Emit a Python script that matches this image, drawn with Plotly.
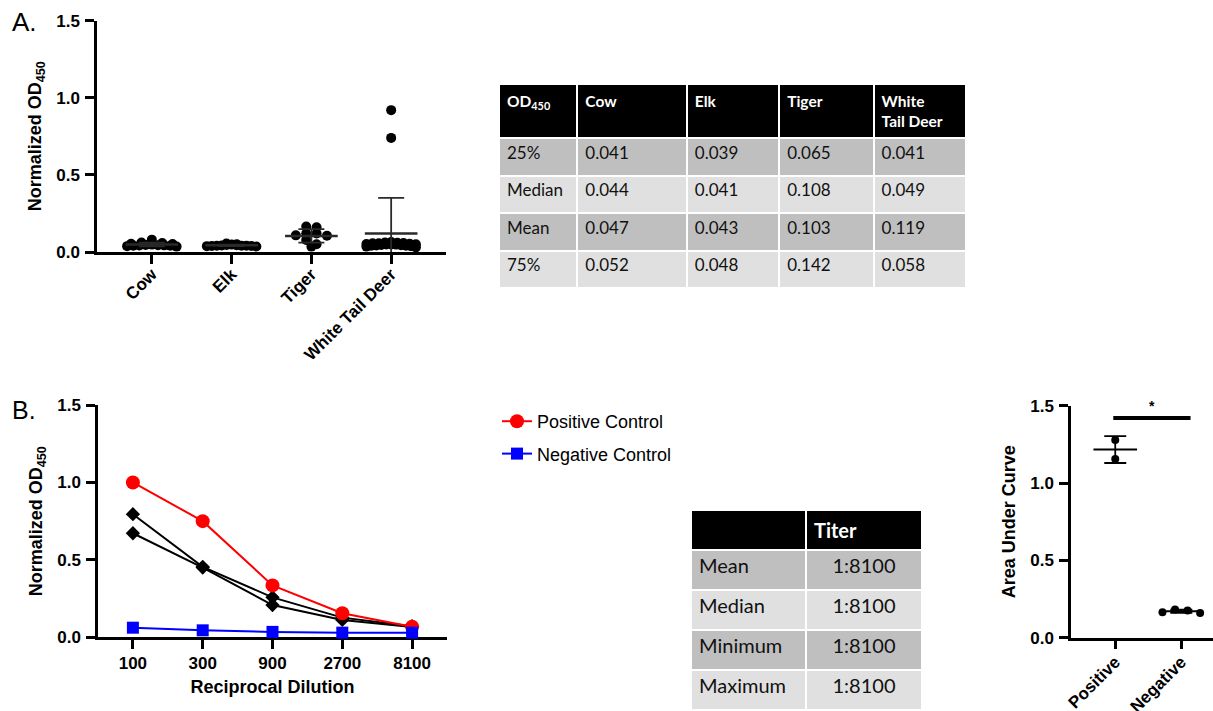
import numpy as np
import plotly.graph_objects as go

# ---------------- Panel A data ----------------
SPECIES = ["Cow", "Elk", "Tiger", "White Tail Deer"]
COW = [0.035, 0.038, 0.040, 0.041, 0.042, 0.043, 0.044, 0.045, 0.048,
       0.052, 0.053, 0.058, 0.062, 0.080]
ELK = [0.036, 0.038, 0.039, 0.039, 0.040, 0.041, 0.041, 0.042, 0.044,
       0.046, 0.048, 0.050, 0.055]
TIGER = [0.120, 0.050, 0.105, 0.160, 0.108, 0.165, 0.078, 0.120, 0.035]
WTD = [0.030, 0.035, 0.038, 0.040, 0.041, 0.042, 0.044, 0.046, 0.048, 0.049,
       0.049, 0.050, 0.052, 0.054, 0.056, 0.057, 0.058, 0.060, 0.062, 0.065,
       0.740, 0.920]

TABLE_A_HEADER = ["OD<sub>450</sub>", "Cow", "Elk", "Tiger", "White<br>Tail Deer"]
TABLE_A_STATS = ["25%", "Median", "Mean", "75%"]
TABLE_A_COW = ["0.041", "0.044", "0.047", "0.052"]
TABLE_A_ELK = ["0.039", "0.041", "0.043", "0.048"]
TABLE_A_TIGER = ["0.065", "0.108", "0.103", "0.142"]
TABLE_A_WTD = ["0.041", "0.049", "0.119", "0.058"]

# ---------------- Panel B data ----------------
DILUTIONS = [100, 300, 900, 2700, 8100]
POS_CTRL = [1.000, 0.750, 0.335, 0.155, 0.068]
NEG_CTRL = [0.062, 0.045, 0.035, 0.030, 0.030]
SAMPLE_1 = [0.795, 0.455, 0.258, 0.127, 0.072]
SAMPLE_2 = [0.672, 0.450, 0.208, 0.112, 0.066]

TITER_HEADER = ["", "Titer"]
TITER_STATS = ["Mean", "Median", "Minimum", "Maximum"]
TITER_VALUES = ["1:8100", "1:8100", "1:8100", "1:8100"]

AUC_GROUPS = ["Positive", "Negative"]
AUC_POS = [1.278, 1.155]
AUC_NEG = [0.165, 0.182, 0.160, 0.176]
SIG_TEXT = "*"
SIG_Y = 1.42


def swarm_offsets(values, bin_size, spacing, max_half):
    v = np.asarray(values, float)
    offs = np.zeros(len(v))
    bins = np.floor(v / bin_size).astype(int)
    for b in np.unique(bins):
        idx = np.where(bins == b)[0]
        idx = idx[np.argsort(-v[idx], kind="stable")]
        k = len(idx)
        half = min(max_half, spacing * (k - 1) / 2)
        slots = np.linspace(-half, half, k) if k > 1 else np.array([0.0])
        order = np.argsort(np.abs(slots), kind="stable")
        offs[idx] = slots[order]
    return offs


FONT = "Liberation Sans, Arial, sans-serif"
TFONT = "Lato, Open Sans, sans-serif"
W, H = 1213, 711


def px_x(p):
    return p / W


def px_y(p):
    return 1 - p / H


fig = go.Figure()

# ---------- Panel A scatter ----------
for i, vals in enumerate([COW, ELK, TIGER, WTD]):
    xs = i + swarm_offsets(vals, 0.05, 0.13, 0.31)
    fig.add_trace(go.Scatter(x=xs, y=vals, mode="markers",
                             marker=dict(color="black", size=10),
                             cliponaxis=False, showlegend=False,
                             xaxis="x", yaxis="y", hoverinfo="y"))
for i, vals in enumerate([COW, ELK, TIGER, WTD]):
    m = float(np.mean(vals))
    sd = float(np.std(vals, ddof=1))
    fig.add_trace(go.Scatter(x=[i - 0.33, i + 0.33], y=[m, m], mode="lines",
                             line=dict(color="#2a2a2a", width=2.5),
                             showlegend=False, xaxis="x", yaxis="y"))
    fig.add_trace(go.Scatter(x=[i], y=[m], mode="markers",
                             marker=dict(size=1, color="rgba(0,0,0,0)"),
                             error_y=dict(type="data", array=[sd], color="#2a2a2a",
                                          thickness=1.8, width=13),
                             showlegend=False, xaxis="x", yaxis="y"))

# ---------- Panel B lines ----------
for s in [SAMPLE_1, SAMPLE_2]:
    fig.add_trace(go.Scatter(x=DILUTIONS, y=s, mode="lines+markers",
                             line=dict(color="black", width=2),
                             marker=dict(symbol="diamond", size=11, color="black"),
                             cliponaxis=False, showlegend=False,
                             xaxis="x2", yaxis="y2"))
fig.add_trace(go.Scatter(x=DILUTIONS, y=POS_CTRL, mode="lines+markers",
                         name="Positive Control", legendgroup="p",
                         line=dict(color="#ff0000", width=2),
                         marker=dict(symbol="circle", size=14, color="#ff0000"),
                         cliponaxis=False, xaxis="x2", yaxis="y2"))
fig.add_trace(go.Scatter(x=DILUTIONS, y=NEG_CTRL, mode="lines+markers",
                         name="Negative Control", legendgroup="n",
                         line=dict(color="#0000ff", width=2),
                         marker=dict(symbol="square", size=12, color="#0000ff"),
                         cliponaxis=False, xaxis="x2", yaxis="y2"))

# ---------- AUC panel ----------
for i, vals in enumerate([AUC_POS, AUC_NEG]):
    xs = i + swarm_offsets(vals, 0.05, 0.19, 0.3)
    m = float(np.mean(vals))
    sd = float(np.std(vals, ddof=1))
    fig.add_trace(go.Scatter(x=[i - 0.33, i + 0.33], y=[m, m], mode="lines",
                             line=dict(color="black", width=2),
                             showlegend=False, xaxis="x3", yaxis="y3"))
    fig.add_trace(go.Scatter(x=[i], y=[m], mode="markers",
                             marker=dict(size=1, color="rgba(0,0,0,0)"),
                             error_y=dict(type="data", array=[sd], color="black",
                                          thickness=1.8, width=11),
                             showlegend=False, xaxis="x3", yaxis="y3"))
    fig.add_trace(go.Scatter(x=xs, y=vals, mode="markers",
                             marker=dict(color="black", size=8),
                             cliponaxis=False, showlegend=False,
                             xaxis="x3", yaxis="y3"))

# ---------- Tables ----------
rowfill = ["#bfbfbf", "#e0e0e0", "#bfbfbf", "#e0e0e0"]
fig.add_trace(go.Table(
    domain=dict(x=[px_x(499), px_x(966)], y=[px_y(290), px_y(84)]),
    columnwidth=[78, 109, 92, 94, 92],
    header=dict(values=["<b>%s</b>" % h for h in TABLE_A_HEADER],
                fill_color="black", align="left", height=50,
                line=dict(color="white", width=2),
                font=dict(family=TFONT, size=15.5, color="white")),
    cells=dict(values=[TABLE_A_STATS, TABLE_A_COW, TABLE_A_ELK, TABLE_A_TIGER, TABLE_A_WTD],
               fill_color=[rowfill] * 5, align="left", height=37.5,
               line=dict(color="white", width=2),
               font=dict(family=TFONT, size=17, color="#111111")),
))
fig.add_trace(go.Table(
    domain=dict(x=[px_x(691), px_x(922)], y=[0, px_y(510)]),
    columnwidth=[114, 115],
    header=dict(values=["<b>%s</b>" % h for h in TITER_HEADER],
                fill_color="black", align="left", height=37,
                line=dict(color="white", width=2),
                font=dict(family=TFONT, size=20, color="white")),
    cells=dict(values=[TITER_STATS, TITER_VALUES],
               fill_color=[rowfill] * 2, align=["left", "center"], height=40,
               line=dict(color="white", width=2),
               font=dict(family=TFONT, size=20, color="#111111")),
))

axis_common = dict(showline=True, linewidth=2.5, linecolor="black", ticks="outside",
                   ticklen=9, tickwidth=2.5, tickcolor="black", showgrid=False,
                   zeroline=False, layer="below traces", automargin=False,
                   tickfont=dict(family=FONT, size=17, color="black", weight="bold"))
ytitle_font = dict(family=FONT, size=18, color="black", weight="bold")

log_half = 0.5 * np.log10(3)
fig.update_layout(
    width=W, height=H, margin=dict(l=0, r=0, t=0, b=0, autoexpand=False),
    paper_bgcolor="white", plot_bgcolor="white",
    font=dict(family=FONT, color="black"),
    xaxis=dict(domain=[px_x(97), px_x(446)], range=[-0.6875, 3.6875],
               tickvals=list(range(len(SPECIES))), ticktext=SPECIES, tickangle=-45,
               anchor="y", ticklabelstandoff=-6, **axis_common),
    yaxis=dict(domain=[px_y(252), px_y(20.7)], range=[0, 1.5],
               tickvals=[0, 0.5, 1.0, 1.5], tickformat=".1f", anchor="x",
               ticklabelstandoff=2,
               title=dict(text="Normalized OD<sub>450</sub>", font=ytitle_font, standoff=10),
               **axis_common),
    xaxis2=dict(domain=[px_x(98), px_x(447)], type="log",
                range=[np.log10(DILUTIONS[0]) - log_half, np.log10(DILUTIONS[-1]) + log_half],
                tickvals=DILUTIONS, ticktext=[str(d) for d in DILUTIONS], anchor="y2",
                ticklabelstandoff=0,
                title=dict(text="Reciprocal Dilution", font=ytitle_font, standoff=8),
                **axis_common),
    yaxis2=dict(domain=[px_y(637.3), px_y(405)], range=[0, 1.5],
                tickvals=[0, 0.5, 1.0, 1.5], tickformat=".1f", anchor="x2",
                ticklabelstandoff=2,
                title=dict(text="Normalized OD<sub>450</sub>", font=ytitle_font, standoff=10),
                **axis_common),
    xaxis3=dict(domain=[px_x(1071), 1.0], range=[-0.67, 1.48],
                tickvals=[0, 1], ticktext=AUC_GROUPS, tickangle=-45, anchor="y3",
                ticklabelstandoff=-4, **axis_common),
    yaxis3=dict(domain=[px_y(637.7), px_y(405.7)], range=[0, 1.5],
                tickvals=[0, 0.5, 1.0, 1.5], tickformat=".1f", anchor="x3",
                ticklabelstandoff=2,
                title=dict(text="Area Under Curve", font=ytitle_font, standoff=10),
                **axis_common),
    legend=dict(x=px_x(497), y=px_y(403), xanchor="left", yanchor="top",
                font=dict(family=FONT, size=18, color="black"),
                bgcolor="rgba(0,0,0,0)", traceorder="grouped", tracegroupgap=6),
    shapes=[dict(type="line", xref="x3", yref="y3", x0=-0.03, x1=1.14,
                 y0=SIG_Y, y1=SIG_Y, line=dict(color="black", width=4))],
    annotations=[
        dict(text="A.", x=px_x(10), y=px_y(5), xref="paper", yref="paper",
             xanchor="left", yanchor="top", showarrow=False,
             font=dict(family=FONT, size=26, color="black")),
        dict(text="B.", x=px_x(10), y=px_y(394), xref="paper", yref="paper",
             xanchor="left", yanchor="top", showarrow=False,
             font=dict(family=FONT, size=25, color="black")),
        dict(text="<b>%s</b>" % SIG_TEXT, x=0.55, y=SIG_Y, xref="x3", yref="y3",
             yanchor="bottom", showarrow=False, yshift=2,
             font=dict(family=FONT, size=14, color="black")),
    ],
)

fig.write_html("out.html", config={"displayModeBar": False},
               post_script="document.body.style.margin='0px';document.body.style.overflow='hidden';")
